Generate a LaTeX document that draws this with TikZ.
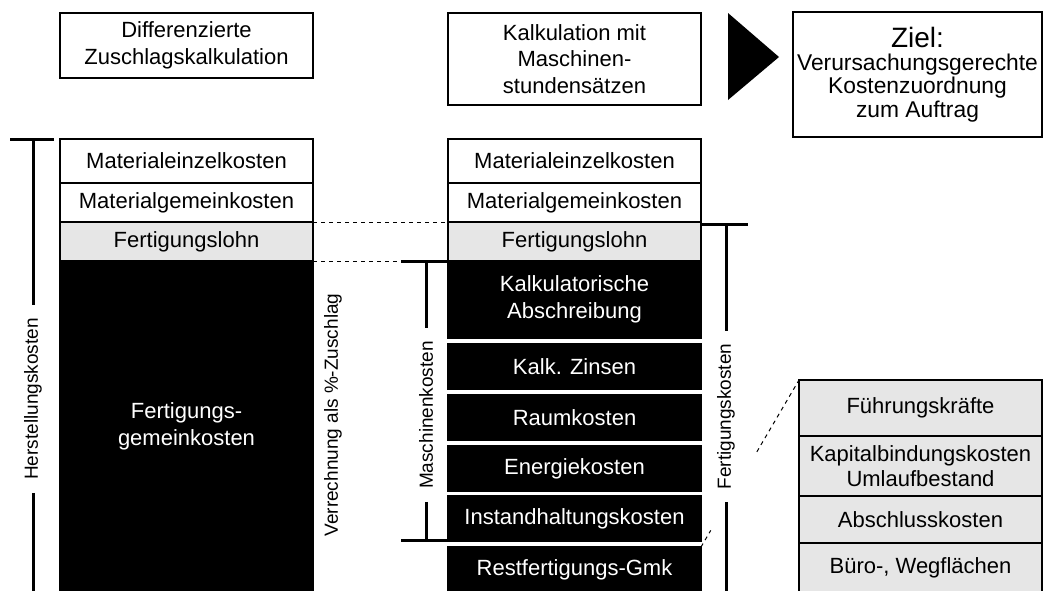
\documentclass[tikz,border=0pt]{standalone}
\usepackage{fontspec}
\setmainfont{Liberation Sans}
\usetikzlibrary{calc}
\definecolor{lightfill}{HTML}{E6E6E6}
\begin{document}
\begin{tikzpicture}[x=0.5pt,y=-0.5pt,
  every node/.style={font=\fontsize{11}{13.2}\selectfont, align=center, inner sep=0pt, outer sep=0pt},
  cell/.style 2 args={draw=black, line width=0.6pt, minimum width=#1*0.5pt, minimum height=#2*0.5pt},
  whitecell/.style 2 args={cell={#1}{#2}, fill=white},
  greycell/.style 2 args={cell={#1}{#2}, fill=lightfill},
  blackcell/.style 2 args={cell={#1}{#2}, fill=black, text=white},
  bar/.style={line width=1.5pt},
  guide/.style={line width=0.5pt, dash pattern=on 2pt off 2pt},
  sidelabel/.style={rotate=90, font=\fontsize{9.5}{11}\selectfont, inner xsep=6.5pt, inner ysep=2pt},
]
\useasboundingbox (0,0) rectangle (1044,590);

% headings
\node[whitecell={253}{65}] (hdl) at (186.5,45.5) {Differenzierte\\Zuschlagskalkulation};
\node[whitecell={253}{92}] (hdm) at (574.5,59) {Kalkulation mit\\Maschinen-\\stundensätzen};
\fill (728,13) -- (779,57) -- (728,100) -- cycle;
\node[whitecell={249}{125}, font=\fontsize{11.4}{11.6}\selectfont] (goal) at (917.5,74.5)
  {{\fontsize{14}{15}\selectfont Ziel:}\\Verursachungsgerechte\\Kostenzuordnung\\zum Auftrag};

% left column: differentiated overhead costing
\node[whitecell={253}{44}] (lme) at (186.5,161) {Materialeinzelkosten};
\node[whitecell={253}{39}] (lmg) at (186.5,202.5) {Materialgemeinkosten};
\node[greycell={253}{39}] (lfl) at (186.5,241.5) {Fertigungslohn};
\node[blackcell={253}{331}] (lfg) at (186.5,426.5) {Fertigungs-\\gemeinkosten};

% middle column: machine hour rates
\node[whitecell={253}{44}] (mme) at (574.5,161) {Materialeinzelkosten};
\node[whitecell={253}{39}] (mmg) at (574.5,202.5) {Materialgemeinkosten};
\node[greycell={253}{39}] (mfl) at (574.5,241.5) {Fertigungslohn};
\node[blackcell={253}{77}] (mab) at (574.5,299.5) {Kalkulatorische\\Abschreibung};
\node[blackcell={253}{45}] (mzi) at (574.5,366.5) {Kalk. Zinsen};
\node[blackcell={253}{45}] (mra) at (574.5,417.5) {Raumkosten};
\node[blackcell={253}{45}] (men) at (574.5,468.5) {Energiekosten};
\node[blackcell={253}{45}] (min) at (574.5,518.5) {Instandhaltungskosten};
\node[blackcell={253}{45}] (mrest) at (574.5,569.5) {Restfertigungs-Gmk};

% right stack: detail of the remaining overheads
\node[greycell={243}{56}] (rfk) at (920.5,408) {Führungskräfte};
\node[greycell={243}{60}, font=\fontsize{11}{12.5}\selectfont] (rkb) at (920.5,466) {Kapitalbindungskosten\\Umlaufbestand};
\node[greycell={243}{47}] (rab) at (920.5,519.5) {Abschlusskosten};
\node[greycell={243}{49}] (rbw) at (920.5,567.5) {Büro-, Wegflächen};

% guide lines between the columns
\draw[guide] (lfl.north east) -- (mfl.north west);
\draw[guide] (lfl.south east) -- (mfl.south west);
\draw[guide] (mrest.north east) -- ($(mrest.north east)!0.1!(rfk.north west)$);
\draw[guide] ($(mrest.north east)!0.57!(rfk.north west)$) -- (rfk.north west);

% bracket: Herstellungskosten
\coordinate (hTL) at (10,139);
\coordinate (hTR) at (54,139);
\coordinate (hT) at (33,139);
\coordinate (hB) at (33,596);
\node[sidelabel] (hlab) at (33,399) {Herstellungskosten};
\draw[bar] (hTL) -- (hTR);
\draw[bar] (hT) -- (hlab);
\draw[bar] (hlab) -- (hB);

% label: surcharge
\node[sidelabel] (vlab) at (333,415) {Verrechnung als \%-Zuschlag};

% bracket: Maschinenkosten
\coordinate (mkTL) at (401,261);
\coordinate (mkTR) at (447,261);
\coordinate (mkT) at (426,261);
\coordinate (mkB) at (426,540);
\coordinate (mkBL) at (401,540);
\coordinate (mkBR) at (447,540);
\node[sidelabel] (mklab) at (426,415) {Maschinenkosten};
\draw[bar] (mkTL) -- (mkTR);
\draw[bar] (mkBL) -- (mkBR);
\draw[bar] (mkT) -- (mklab);
\draw[bar] (mklab) -- (mkB);

% bracket: Fertigungskosten
\coordinate (fkTL) at (701,224);
\coordinate (fkTR) at (748,224);
\coordinate (fkT) at (726,224);
\coordinate (fkB) at (726,596);
\node[sidelabel] (fklab) at (726,416.5) {Fertigungskosten};
\draw[bar] (fkTL) -- (fkTR);
\draw[bar] (fkT) -- (fklab);
\draw[bar] (fklab) -- (fkB);
\end{tikzpicture}
\end{document}
